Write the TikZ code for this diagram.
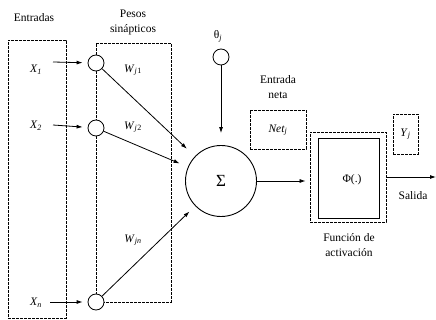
\documentclass[tikz,border=0pt]{standalone}
\usepackage{fontspec}
\setmainfont{Liberation Serif}
\usetikzlibrary{arrows.meta}
\newcommand\subx[2]{\textit{#1}\textsubscript{\textit{#2}}}
\begin{document}
\begin{tikzpicture}[x=1pt,y=-1pt,
  txt/.style={font=\fontsize{11.5}{15}\selectfont, align=center, inner sep=0pt},
  var/.style={font=\fontsize{11.5}{14}\selectfont, inner sep=0pt},
  dbox/.style={draw, line width=0.9pt, dash pattern=on 2.6pt off 1.4pt, inner sep=0pt},
  neuron/.style={draw, circle, line width=0.8pt, minimum size=16pt, inner sep=0pt},
  arr/.style={line width=0.8pt, -{Latex[length=6pt,width=4pt]}}
]
\useasboundingbox (0,0) rectangle (436,320);

% labels
\node[txt] (lentradas) at (34,18) {Entradas};
\node[txt] (lpesos) at (133,22) {Pesos\\sinápticos};
\node[txt] (lneta) at (278,87) {Entrada\\neta};
\node[txt] (lfun) at (349,245) {Función de\\activación};
\node[txt] (lsalida) at (413,196) {Salida};

% input box
\node[dbox, minimum width=58pt, minimum height=278pt] (inbox) at (37,179) {};

% synapse circles
\node[neuron] (c1) at (96,63) {};
\node[neuron] (c2) at (96,128) {};
\node[neuron] (cn) at (96,302) {};

% weights box (dashed, interrupted by circles)
\draw[line width=0.9pt, dash pattern=on 2.6pt off 1.4pt]
  (c1.north) -- (96,43) -- (171,43) -- (171,302) -- (cn.east);
\draw[line width=0.9pt, dash pattern=on 2.6pt off 1.4pt] (c1.south) -- (c2.north);
\draw[line width=0.9pt, dash pattern=on 2.6pt off 1.4pt] (c2.south) -- (cn.north);

% input labels and arrows
\node[var] (x1) at (36,70) {\subx{X}{1}};
\node[var] (x2) at (36,126) {\subx{X}{2}};
\node[var] (xn) at (36,303) {\subx{X}{n}};
\coordinate (a1) at (53,62);
\coordinate (a2) at (53,125);
\coordinate (an) at (50,302);
\draw[arr, shorten >=5pt] (a1) -- (c1);
\draw[arr, shorten >=5pt] (a2) -- (c2);
\draw[arr, shorten >=5pt] (an) -- (cn);

% weights
\node[var] (w1) at (133,70) {\subx{W}{j}\textsubscript{1}};
\node[var] (w2) at (133,127) {\subx{W}{j}\textsubscript{2}};
\node[var] (wn) at (133,240) {\subx{W}{jn}};

% summation
\node[draw, circle, line width=0.9pt, minimum size=71pt, inner sep=0pt,
      font=\fontsize{17}{17}\selectfont] (sum) at (221,181) {Σ};

% bias
\node[neuron] (th) at (221,57) {};
\node[var] (lth) at (218,36) {θ\textsubscript{\textit{j}}};

\draw[arr, shorten >=11pt] (c1) -- (sum);
\draw[arr, shorten >=9pt] (c2) -- (sum);
\draw[arr, shorten >=8pt] (cn) -- (sum);
\draw[arr, shorten >=12pt] (th) -- (sum);

% net input
\node[dbox, minimum width=56pt, minimum height=39pt] (net) at (278,129.5) {};
\node[var] (lnet) at (278,130) {\subx{Net}{j}};

% activation
\node[dbox, minimum width=76pt, minimum height=90pt] (act) at (348,177) {};
\node[draw, line width=0.9pt, minimum width=61pt, minimum height=80pt, inner sep=0pt] (actin) at (349,178) {};
\node[var] (lphi) at (352,180) {Φ(.)};

\draw[arr, shorten >=4pt] (sum.east) -- (sum.east -| act.west);

% output
\node[dbox, minimum width=25pt, minimum height=40pt] (ybox) at (405.5,134) {};
\node[var] (ly) at (405.5,134) {\subx{Y}{j}};
\coordinate (out) at (436,177);
\draw[arr] (act.east) -- (out);
\end{tikzpicture}
\end{document}
